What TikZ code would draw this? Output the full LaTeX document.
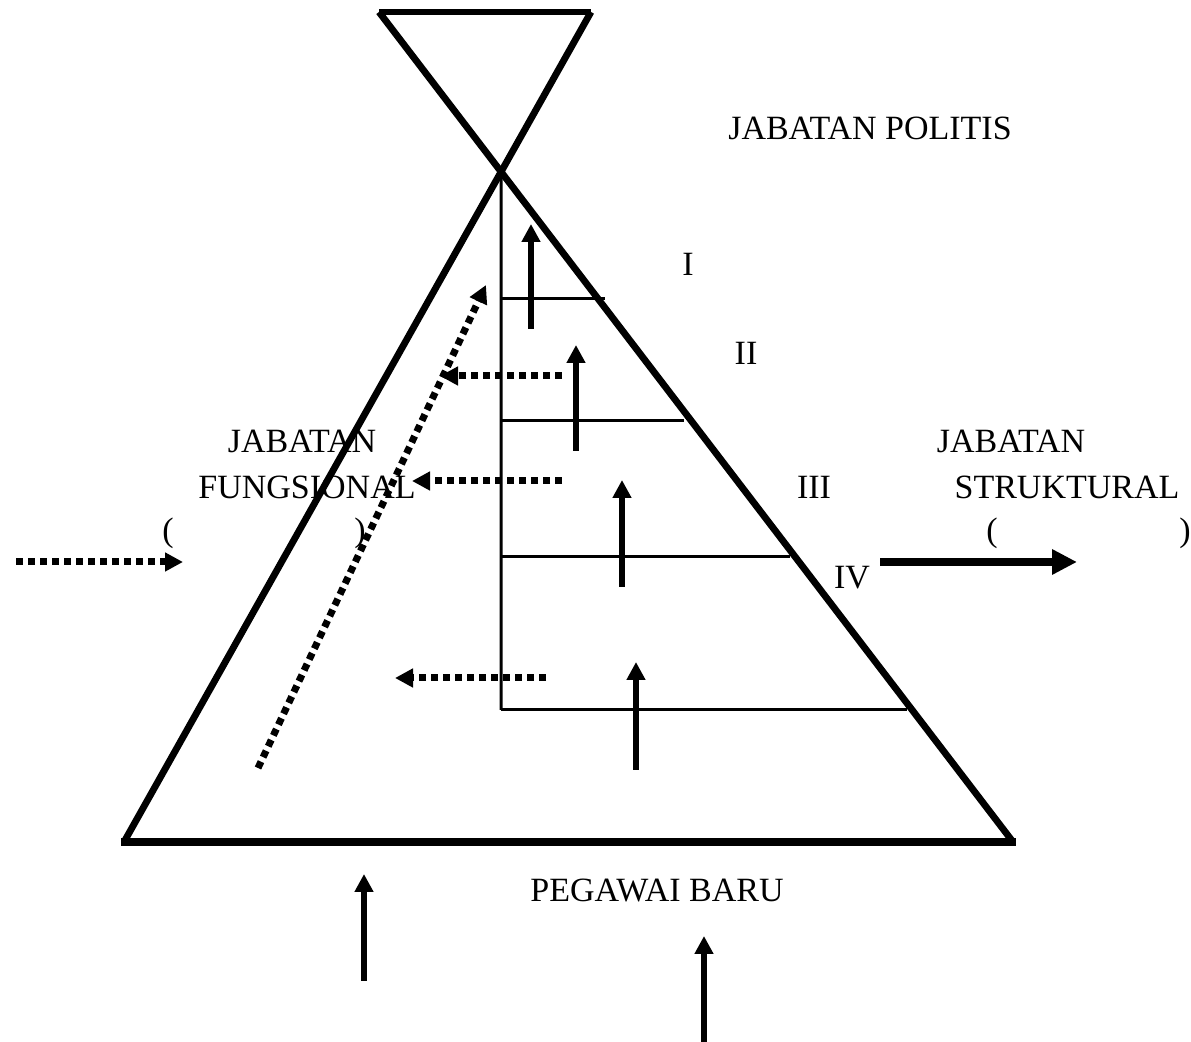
\documentclass[tikz,border=0pt]{standalone}
\usepackage{fontspec}
\setmainfont{Liberation Serif}
\usetikzlibrary{arrows.meta}
\begin{document}
\begin{tikzpicture}[x=0.5pt,y=-0.5pt,
  thickline/.style={line width=3.4pt},
  baseline/.style={line width=4pt},
  thinline/.style={line width=1.5pt},
  uparrow/.style={line width=3pt,-{Triangle[length=9pt,width=9pt]}},
  bigarrow/.style={line width=4pt,-{Triangle[length=12.5pt,width=12pt]}},
  dotarrow/.style={line width=3.5pt,dash pattern=on 3.5pt off 2.5pt,-{Triangle[length=9pt,width=9pt]}},
  lbl/.style={font=\fontsize{17}{20}\selectfont,inner sep=0pt,anchor=base}]
\useasboundingbox (0,0) rectangle (1191,1042);

% labels
\node[lbl] (politis) at (870,140) {JABATAN POLITIS};
\node[lbl] (r1) at (688,276) {I};
\node[lbl] (r2) at (746,365) {II};
\node[lbl] (r3) at (814,499) {III};
\node[lbl] (r4) at (852,589) {IV};
\node[lbl] (fj) at (302,453) {JABATAN};
\node[lbl] (ff) at (307,499) {FUNGSIONAL};
\node[lbl] (fpl) at (168,542) {(};
\node[lbl] (fpr) at (360,542) {)};
\node[lbl] (sj) at (1011,453) {JABATAN};
\node[lbl] (ss) at (1067,499) {STRUKTURAL};
\node[lbl] (spl) at (992,542) {(};
\node[lbl] (spr) at (1185,542) {)};
\node[lbl] (baru) at (657,902) {PEGAWAI BARU};

% main figure
\coordinate (TL) at (379,12);
\coordinate (TR) at (591,12);
\coordinate (BL) at (124,842);
\coordinate (BR) at (1013,842);
\coordinate (BL2) at (121,842);
\coordinate (BR2) at (1016,842);
\coordinate (apex) at (intersection of TL--BR and TR--BL);
\draw[thickline] (TL) -- (TR);
\draw[thickline] (TL) -- (BR);
\draw[thickline] (TR) -- (BL);
\draw[baseline] (BL2) -- (BR2);

% inner structure
\coordinate (vb) at (501,710);
\draw[thinline] (apex) -- (vb);
\coordinate (h1a) at (501,299); \coordinate (h1b) at (605,299);
\coordinate (h2a) at (501,421); \coordinate (h2b) at (684,421);
\coordinate (h3a) at (501,557); \coordinate (h3b) at (790,557);
\coordinate (h4b) at (907,710);
\draw[thinline] (h1a) -- (h1b);
\draw[thinline] (h2a) -- (h2b);
\draw[thinline] (h3a) -- (h3b);
\draw[thinline] (vb) -- (h4b);

% upward arrows
\coordinate (a1s) at (531,329); \coordinate (a1e) at (531,224);
\coordinate (a2s) at (576,451); \coordinate (a2e) at (576,345);
\coordinate (a3s) at (622,587); \coordinate (a3e) at (622,480);
\coordinate (a4s) at (636,770); \coordinate (a4e) at (636,662);
\coordinate (a5s) at (364,981); \coordinate (a5e) at (364,874);
\coordinate (a6s) at (704,1042); \coordinate (a6e) at (704,936);
\draw[uparrow] (a1s) -- (a1e);
\draw[uparrow] (a2s) -- (a2e);
\draw[uparrow] (a3s) -- (a3e);
\draw[uparrow] (a4s) -- (a4e);
\draw[uparrow] (a5s) -- (a5e);
\draw[uparrow] (a6s) -- (a6e);

% right arrow
\coordinate (rs) at (880,562); \coordinate (re) at (1077,562);
\draw[bigarrow] (rs) -- (re);

% dotted arrows
\coordinate (d1s) at (562,376); \coordinate (d1e) at (440,376);
\coordinate (d2s) at (562,481); \coordinate (d2e) at (412,481);
\coordinate (d3s) at (546,678); \coordinate (d3e) at (395,678);
\coordinate (d4s) at (16,562); \coordinate (d4e) at (183,562);
\coordinate (d5s) at (258,768); \coordinate (d5e) at (486,285);
\draw[dotarrow] (d1s) -- (d1e);
\draw[dotarrow] (d2s) -- (d2e);
\draw[dotarrow] (d3s) -- (d3e);
\draw[dotarrow] (d4s) -- (d4e);
\draw[dotarrow] (d5s) -- (d5e);
\end{tikzpicture}
\end{document}
